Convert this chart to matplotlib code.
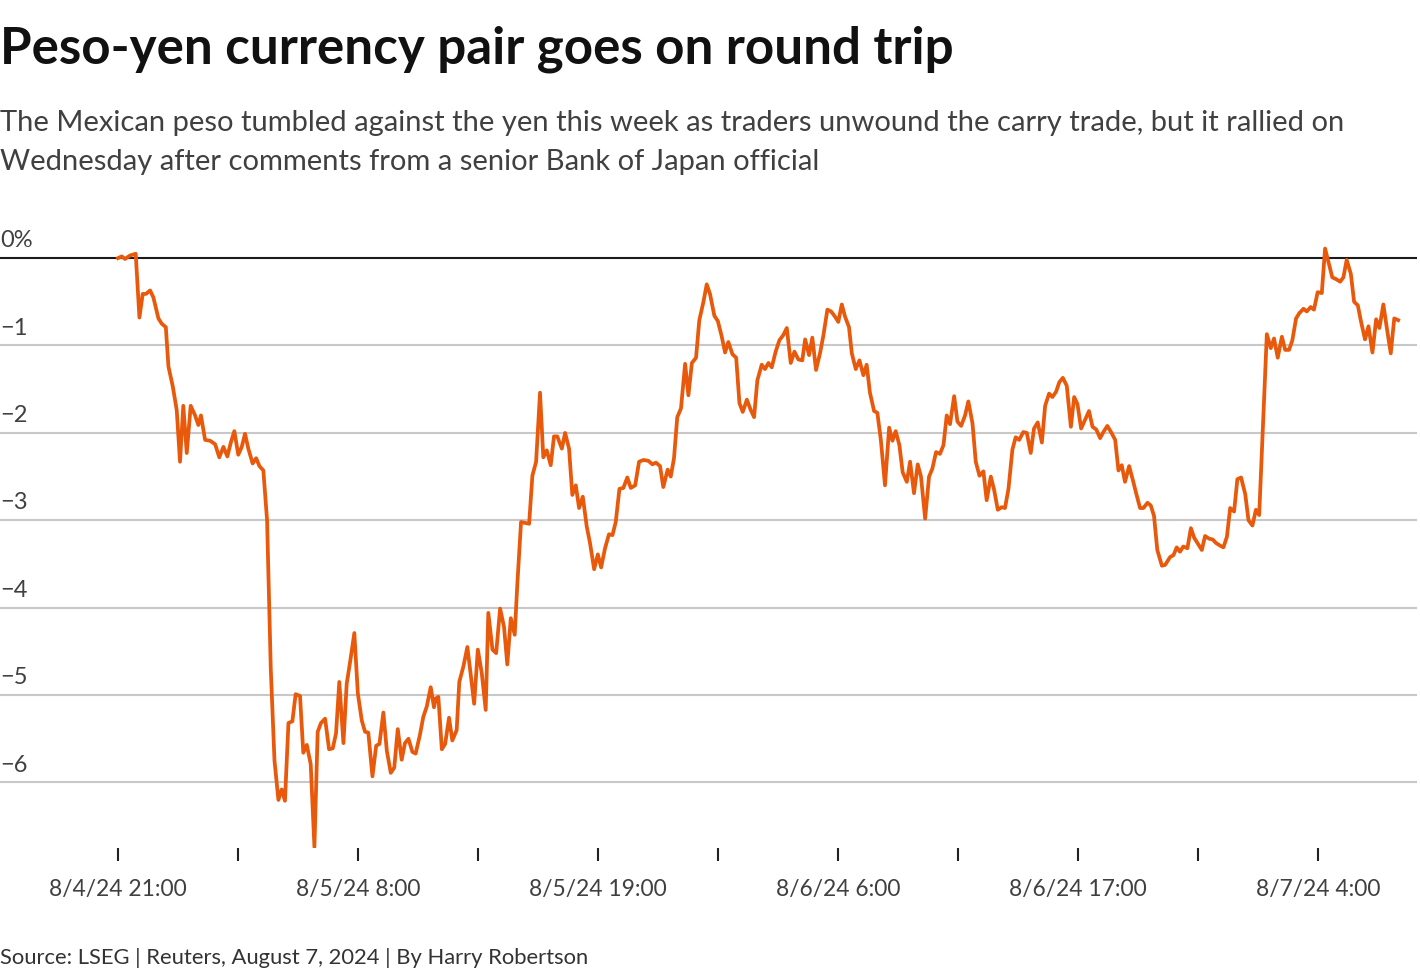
import numpy as np
import pandas as pd
import matplotlib
matplotlib.use("Agg")
import matplotlib.pyplot as plt
import matplotlib.dates as mdates
import matplotlib.transforms as mtransforms

plt.rcParams['font.family'] = ['Lato', 'DejaVu Sans']

# hours after 8/4/24 21:00 and peso-yen change in %
hours = [0.00, 0.17, 0.32, 0.55, 0.81, 0.98, 1.13, 1.28, 1.47, 1.62, 1.85, 2.00, 2.19, 2.31, 2.51, 2.69,
         2.84, 2.99, 3.15, 3.33, 3.53, 3.68, 3.80, 3.99, 4.22, 4.45, 4.64, 4.83, 5.01, 5.17, 5.33, 5.51,
         5.67, 5.82, 5.97, 6.17, 6.33, 6.48, 6.66, 6.83, 7.00, 7.17, 7.35, 7.50, 7.65, 7.81, 7.99, 8.14,
         8.34, 8.49, 8.65, 8.83, 9.00, 9.15, 9.30, 9.49, 9.67, 9.84, 9.99, 10.14, 10.33, 10.48, 10.63,
         10.83, 10.99, 11.17, 11.32, 11.47, 11.66, 11.83, 11.98, 12.16, 12.32, 12.50, 12.66, 12.82, 13.00,
         13.15, 13.31, 13.49, 13.64, 13.84, 13.99, 14.15, 14.33, 14.48, 14.56, 14.68, 14.84, 14.99, 15.17,
         15.32, 15.52, 15.64, 15.83, 16.01, 16.17, 16.32, 16.49, 16.67, 16.85, 16.97, 17.16, 17.33, 17.51,
         17.69, 17.84, 18.00, 18.18, 18.30, 18.47, 18.65, 18.84, 18.99, 19.16, 19.34, 19.49, 19.65, 19.83,
         19.98, 20.13, 20.34, 20.49, 20.67, 20.82, 20.98, 21.13, 21.30, 21.48, 21.63, 21.82, 21.99, 22.14,
         22.32, 22.50, 22.66, 22.81, 22.98, 23.16, 23.34, 23.50, 23.70, 23.88, 24.08, 24.31, 24.49, 24.65,
         24.84, 24.99, 25.19, 25.33, 25.48, 25.63, 25.80, 25.99, 26.14, 26.30, 26.49, 26.64, 26.83, 26.98,
         27.13, 27.33, 27.49, 27.67, 27.82, 27.97, 28.16, 28.33, 28.48, 28.63, 28.82, 29.00, 29.15, 29.30,
         29.50, 29.65, 29.81, 29.96, 30.14, 30.31, 30.49, 30.65, 30.83, 31.00, 31.18, 31.36, 31.49, 31.67,
         31.82, 31.99, 32.18, 32.33, 32.51, 32.68, 32.86, 33.01, 33.17, 33.32, 33.50, 33.63, 33.81, 33.98,
         34.16, 34.31, 34.46, 34.65, 34.80, 34.96, 35.15, 35.34, 35.49, 35.64, 35.81, 35.96, 36.15, 36.30,
         36.48, 36.65, 36.80, 36.99, 37.17, 37.32, 37.49, 37.67, 37.83, 37.98, 38.13, 38.32, 38.47, 38.64,
         38.82, 38.97, 39.16, 39.31, 39.48, 39.66, 39.81, 40.00, 40.15, 40.32, 40.50, 40.65, 40.81, 40.99,
         41.14, 41.30, 41.49, 41.65, 41.83, 41.98, 42.15, 42.34, 42.49, 42.67, 42.82, 42.99, 43.14, 43.30,
         43.48, 43.67, 43.82, 43.97, 44.14, 44.32, 44.50, 44.66, 44.83, 45.01, 45.16, 45.34, 45.51, 45.70,
         45.85, 46.00, 46.15, 46.34, 46.51, 46.66, 46.84, 46.99, 47.18, 47.33, 47.48, 47.63, 47.84, 47.99,
         48.22, 48.37, 48.52, 48.67, 48.82, 49.01, 49.17, 49.32, 49.47, 49.67, 49.82, 50.00, 50.17, 50.32,
         50.51, 50.66, 50.82, 50.97, 51.15, 51.30, 51.47, 51.66, 51.81, 51.99, 52.15, 52.30, 52.45, 52.65,
         52.83, 52.98, 53.15, 53.34, 53.49, 53.67, 53.82, 53.99, 54.14, 54.33, 54.48, 54.66, 54.81, 54.98,
         55.17, 55.32, 55.47, 55.65, 55.82, 56.01, 56.16, 56.31, 56.50, 56.65, 56.82, 56.97, 57.15, 57.31,
         57.49, 57.66, 57.81, 57.99, 58.15, 58.33, 58.49, 58.67]

change = [0.00, 0.02, -0.01, 0.03, 0.05, -0.68, -0.41, -0.41, -0.37, -0.45, -0.69, -0.75, -0.79, -1.24, -1.47, -1.74,
          -2.33, -1.69, -2.23, -1.69, -1.80, -1.91, -1.80, -2.08, -2.09, -2.13, -2.28, -2.16, -2.27, -2.11, -1.98, -2.25,
          -2.16, -2.01, -2.18, -2.35, -2.29, -2.38, -2.43, -3.00, -4.70, -5.75, -6.20, -6.08, -6.21, -5.32, -5.30, -4.99,
          -5.01, -5.66, -5.57, -5.79, -6.74, -5.42, -5.32, -5.27, -5.62, -5.61, -5.44, -4.85, -5.55, -4.87, -4.63,
          -4.29, -4.98, -5.29, -5.42, -5.43, -5.93, -5.58, -5.56, -5.20, -5.64, -5.89, -5.83, -5.39, -5.74,
          -5.55, -5.50, -5.65, -5.67, -5.45, -5.25, -5.13, -4.91, -5.14, -5.04, -5.02, -5.62, -5.56, -5.26,
          -5.52, -5.40, -4.85, -4.67, -4.45, -4.78, -5.10, -4.48, -4.75, -5.17, -4.06, -4.48, -4.52, -4.01,
          -4.22, -4.65, -4.12, -4.31, -3.73, -3.02, -3.03, -3.04, -2.49, -2.33, -1.54, -2.28, -2.20, -2.37,
          -2.04, -2.04, -2.18, -2.00, -2.18, -2.71, -2.60, -2.86, -2.73, -3.07, -3.26, -3.56, -3.39, -3.54,
          -3.32, -3.16, -3.17, -3.02, -2.64, -2.63, -2.51, -2.63, -2.60, -2.33, -2.31, -2.32, -2.36, -2.34,
          -2.38, -2.62, -2.42, -2.50, -2.29, -1.82, -1.72, -1.21, -1.57, -1.20, -1.14, -0.71, -0.50, -0.30,
          -0.41, -0.66, -0.72, -0.90, -1.08, -0.96, -1.10, -1.14, -1.66, -1.76, -1.62, -1.74, -1.82, -1.40,
          -1.22, -1.27, -1.20, -1.25, -1.07, -0.94, -0.88, -0.80, -1.20, -1.07, -1.16, -1.17, -0.93, -1.11,
          -0.91, -1.28, -1.08, -0.88, -0.59, -0.61, -0.67, -0.73, -0.53, -0.67, -0.79, -1.09, -1.27, -1.17,
          -1.34, -1.22, -1.54, -1.75, -1.77, -2.08, -2.60, -1.94, -2.09, -1.98, -2.14, -2.45, -2.56, -2.33,
          -2.69, -2.36, -2.50, -2.98, -2.50, -2.41, -2.22, -2.24, -2.14, -1.80, -1.90, -1.58, -1.87, -1.92,
          -1.80, -1.64, -1.89, -2.33, -2.49, -2.44, -2.77, -2.50, -2.65, -2.88, -2.85, -2.86, -2.64, -2.19,
          -2.05, -2.08, -1.99, -2.00, -2.23, -1.95, -1.88, -2.11, -1.69, -1.55, -1.59, -1.53, -1.42, -1.37,
          -1.46, -1.93, -1.59, -1.67, -1.95, -1.85, -1.75, -1.93, -1.96, -2.06, -1.99, -1.92, -1.99, -2.08,
          -2.43, -2.37, -2.56, -2.38, -2.54, -2.69, -2.86, -2.86, -2.80, -2.83, -2.95, -3.34, -3.52, -3.51,
          -3.42, -3.40, -3.31, -3.36, -3.30, -3.32, -3.09, -3.20, -3.26, -3.34, -3.18, -3.21, -3.22, -3.26,
          -3.29, -3.31, -3.19, -2.86, -2.90, -2.53, -2.51, -2.70, -3.00, -3.06, -2.88, -2.94, -2.04, -0.87,
          -1.03, -0.92, -1.14, -0.90, -1.05, -1.05, -0.94, -0.69, -0.63, -0.58, -0.61, -0.56, -0.59, -0.39,
          -0.40, 0.11, -0.04, -0.22, -0.24, -0.27, -0.22, -0.02, -0.18, -0.50, -0.54, -0.73, -0.93, -0.78,
          -1.08, -0.70, -0.80, -0.53, -0.80, -1.09, -0.69, -0.71]

y_ticks = [0, -1, -2, -3, -4, -5, -6]
y_labels = ['0%', '\u22121', '\u22122', '\u22123', '\u22124', '\u22125', '\u22126']

start = pd.Timestamp('2024-08-04 21:00')
times = start + pd.to_timedelta(hours, unit='h')
major_ticks = pd.date_range(start, periods=6, freq='11h')
minor_ticks = pd.date_range(start + pd.Timedelta(hours=5.5), periods=5, freq='11h')

title = 'Peso-yen currency pair goes on round trip'
subtitle = ('The Mexican peso tumbled against the yen this week as traders unwound the carry trade, but it rallied on\n'
            'Wednesday after comments from a senior Bank of Japan official')
source = 'Source: LSEG | Reuters, August 7, 2024 | By Harry Robertson'

fig = plt.figure(figsize=(14.2, 9.8), dpi=100)
ax = fig.add_axes([0.0, 0.1347, 0.998, 0.6153])

for v in y_ticks:
    if v == 0:
        ax.axhline(v, color='#1a1a1a', lw=1.5, zorder=2)
    else:
        ax.axhline(v, color='#c8c8c8', lw=1.5, zorder=1)

ax.plot(times, change, color='#e8590c', lw=2.7, zorder=3, solid_joinstyle='round')

x0 = start - pd.Timedelta(hours=5.41)
x1 = start + pd.Timedelta(hours=59.54)
ax.set_xlim(x0, x1)
ax.set_ylim(-6.75, 0.15)

ax.set_yticks([])
for s in ax.spines.values():
    s.set_visible(False)

ax.set_xticks(major_ticks)
ax.set_xticks(minor_ticks, minor=True)
ax.set_xticklabels([f"{t.month}/{t.day}/{t:%y} {t.hour}:{t:%M}" for t in major_ticks],
                   fontsize=16.4, color='#404040')
ax.tick_params(axis='x', which='both', length=9, width=1.5, color='#222222', pad=13)

trans = mtransforms.blended_transform_factory(ax.transAxes, ax.transData)
for v, lab in zip(y_ticks, y_labels):
    ax.annotate(lab, xy=(0, v), xycoords=trans, xytext=(0, 5), textcoords='offset points',
                ha='left', va='bottom', fontsize=17, color='#404040')

fig.text(0.0, 1 - 49 / 980, title, fontsize=36.8, fontweight='bold', color='#111111',
         ha='left', va='center')
fig.text(0.0, 1 - 110 / 980, subtitle, fontsize=21, color='#404040',
         ha='left', va='top', linespacing=1.62)
fig.text(0.0, 1 - 958 / 980, source, fontsize=15.8, color='#333333', ha='left', va='center')

fig.savefig('out.png', dpi=100)
